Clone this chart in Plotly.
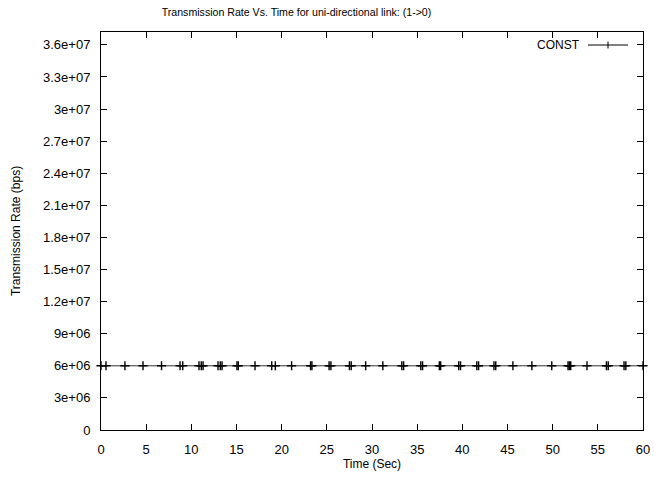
import plotly.graph_objects as go

# Sample times (s) and the measured transmission rate (bps) on link 1->0
time_sec = [0.0, 0.55, 2.65, 4.65, 6.7, 8.75, 9.05, 10.85, 11.1, 11.3,
            12.95, 13.2, 13.4, 15.05, 15.2, 17.05, 18.9, 19.3, 21.1,
            23.2, 23.35, 25.25, 25.45, 27.5, 27.7, 29.3, 31.2, 33.3, 33.5,
            35.4, 35.6, 37.45, 37.6, 39.6, 39.8, 41.6, 41.8, 43.5, 43.7,
            45.6, 47.7, 49.9, 51.7, 51.85, 52.0, 53.8, 55.95, 56.15,
            57.9, 58.1, 60.0]
rate_bps = [6e6] * len(time_sec)

series_name = "CONST"
x_ticks = list(range(0, 61, 5))
y_ticks = [0, 3e6, 6e6, 9e6, 1.2e7, 1.5e7, 1.8e7, 2.1e7, 2.4e7, 2.7e7, 3e7, 3.3e7, 3.6e7]
y_tick_text = ["0", "3e+06", "6e+06", "9e+06", "1.2e+07", "1.5e+07", "1.8e+07",
               "2.1e+07", "2.4e+07", "2.7e+07", "3e+07", "3.3e+07", "3.6e+07"]

FONT = "Liberation Sans, Arial, Helvetica, sans-serif"
W, H = 654, 477
L, R, T, B = 101, 11, 32, 47
pw, ph = W - L - R, H - T - B

fig = go.Figure()
fig.add_trace(go.Scatter(
    x=time_sec, y=rate_bps, mode="lines+markers", name=series_name,
    line=dict(color="#333333", width=1),
    marker=dict(symbol="cross-thin", size=6.5, color="black",
                line=dict(color="black", width=1.4)),
    showlegend=False, cliponaxis=False,
))

axis_common = dict(
    showline=True, linecolor="black", linewidth=1, mirror="ticks",
    ticks="inside", ticklen=6, tickwidth=1, tickcolor="black",
    showgrid=False, zeroline=False, automargin=False,
    tickfont=dict(family=FONT, size=13, color="black"),
)

fig.update_xaxes(range=[0, 60], tickvals=x_ticks, ticktext=[str(v) for v in x_ticks],
                 ticklabelstandoff=7,
                 title=dict(text="Time (Sec)", font=dict(family=FONT, size=12, color="black"),
                            standoff=2),
                 **axis_common)
fig.update_yaxes(range=[0, 3.72e7], tickvals=y_ticks, ticktext=y_tick_text,
                 ticklabelstandoff=7,
                 title=dict(text="Transmission Rate (bps)",
                            font=dict(family=FONT, size=12, color="black"), standoff=19),
                 **axis_common)

# Key in the upper right corner: label to the left of the line sample
ky = 45
kx0, kx1 = 588, 628
kxm = (kx0 + kx1) / 2
def px(x):
    return (x - L) / pw
def py(y):
    return (H - B - y) / ph
fig.add_shape(type="line", xref="paper", yref="paper",
              x0=px(kx0), x1=px(kx1), y0=py(ky), y1=py(ky),
              line=dict(color="black", width=1))
fig.add_shape(type="line", xref="paper", yref="paper",
              x0=px(kxm), x1=px(kxm), y0=py(ky - 3.5), y1=py(ky + 3.5),
              line=dict(color="black", width=1))
fig.add_annotation(xref="paper", yref="paper", x=px(582), y=py(ky),
                   xanchor="right", yanchor="middle", showarrow=False,
                   text=series_name, font=dict(family=FONT, size=12, color="black"))

fig.update_layout(
    width=W, height=H,
    margin=dict(l=L, r=R, t=T, b=B),
    paper_bgcolor="white", plot_bgcolor="white",
    title=dict(text="Transmission Rate Vs. Time for uni-directional link: (1->0)",
               font=dict(family=FONT, size=10.6, color="black"),
               x=296.5 / W, xanchor="center", xref="container",
               y=1 - 12 / H, yanchor="middle", yref="container"),
)

fig.write_html("out.html")
